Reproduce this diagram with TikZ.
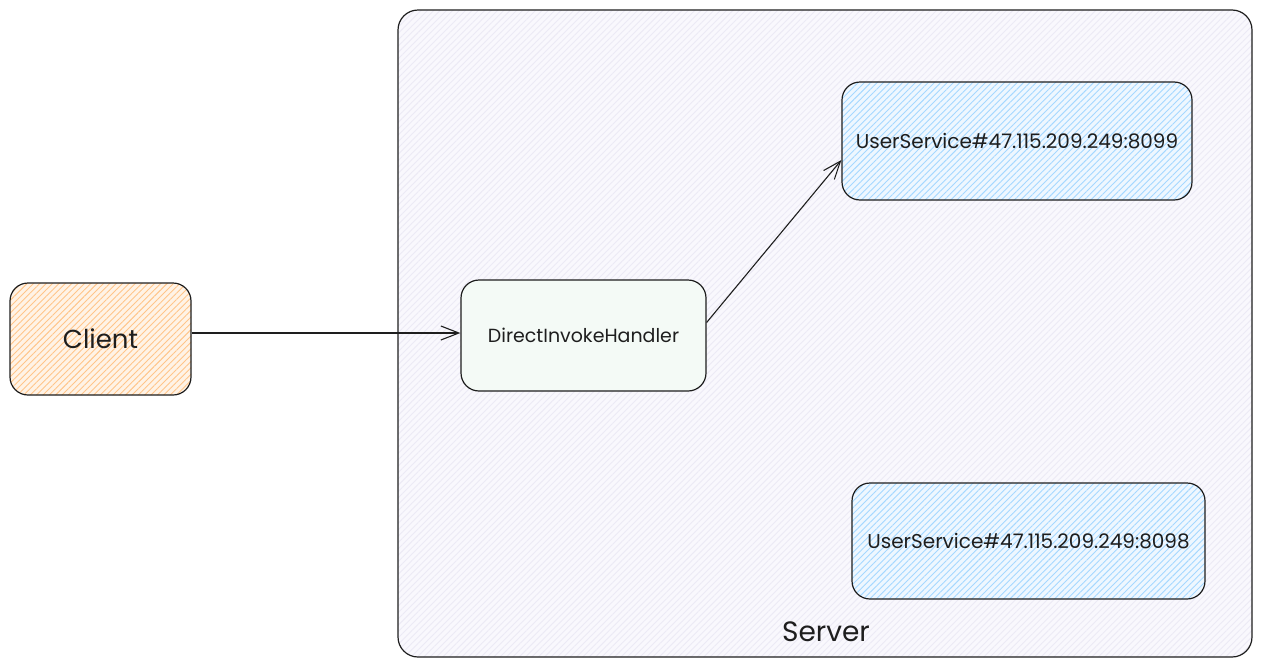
\documentclass[tikz,border=0pt]{standalone}
\usepackage{fontspec}
\setmainfont{Poppins}
\usepackage{xcolor}
\usetikzlibrary{arrows.meta,positioning,patterns.meta}

\definecolor{inkline}{HTML}{1E1E1E}
\definecolor{clientfill}{HTML}{FFF3E6}
\definecolor{clienthatch}{HTML}{FFC58A}
\definecolor{servicefill}{HTML}{EEF7FF}
\definecolor{servicehatch}{HTML}{A5D8FF}
\definecolor{serverfill}{HTML}{F9F8FD}
\definecolor{serverhatch}{HTML}{ECEAF5}
\definecolor{handlerfill}{HTML}{F4FAF6}

\begin{document}
\begin{tikzpicture}[x=1pt, y=-1pt,
  box/.style={draw=inkline, line width=1.2pt, rounded corners=18pt,
    align=center, inner sep=0pt, text=inkline, font=\fontsize{20}{24}\selectfont},
  hatched/.style={preaction={fill=#1fill},
    pattern={Lines[angle=45, distance=4.5pt, line width=0.9pt]},
    pattern color=#1hatch},
  link/.style={draw=inkline, line width=1.1pt,
    -{Straight Barb[length=18pt, width=14pt, line width=1.1pt]}}]
\useasboundingbox (0,0) rectangle (1261,667);

% server frame
\begin{scope}
  \filldraw[hatched=server, draw=inkline, line width=1.2pt, rounded corners=20pt]
    (398,10) rectangle (1252,657);
  \node[font=\fontsize{28}{32}\selectfont, text=inkline] (serverlbl) at (826,632) {Server};
\end{scope}

\node[box, hatched=client, minimum width=181pt, minimum height=112pt,
  font=\fontsize{26}{30}\selectfont] (client) at (100.5,339) {Client};
\node[box, fill=handlerfill, minimum width=245pt, minimum height=111pt,
  font=\fontsize{19}{23}\selectfont] (handler) at (583.5,335.5) {DirectInvokeHandler};
\node[box, hatched=service, minimum width=350pt, minimum height=118pt]
  (us1) at (1017,141) {UserService\#47.115.209.249:8099};
\node[box, hatched=service, minimum width=353pt, minimum height=116pt]
  (us2) at (1028.5,541) {UserService\#47.115.209.249:8098};

\draw[link] ([yshift=6pt]client.east) -- ([yshift=2.5pt]handler.west);
\draw[link] ([yshift=13pt]handler.east) -- ([yshift=-19pt]us1.west);
\end{tikzpicture}
\end{document}
